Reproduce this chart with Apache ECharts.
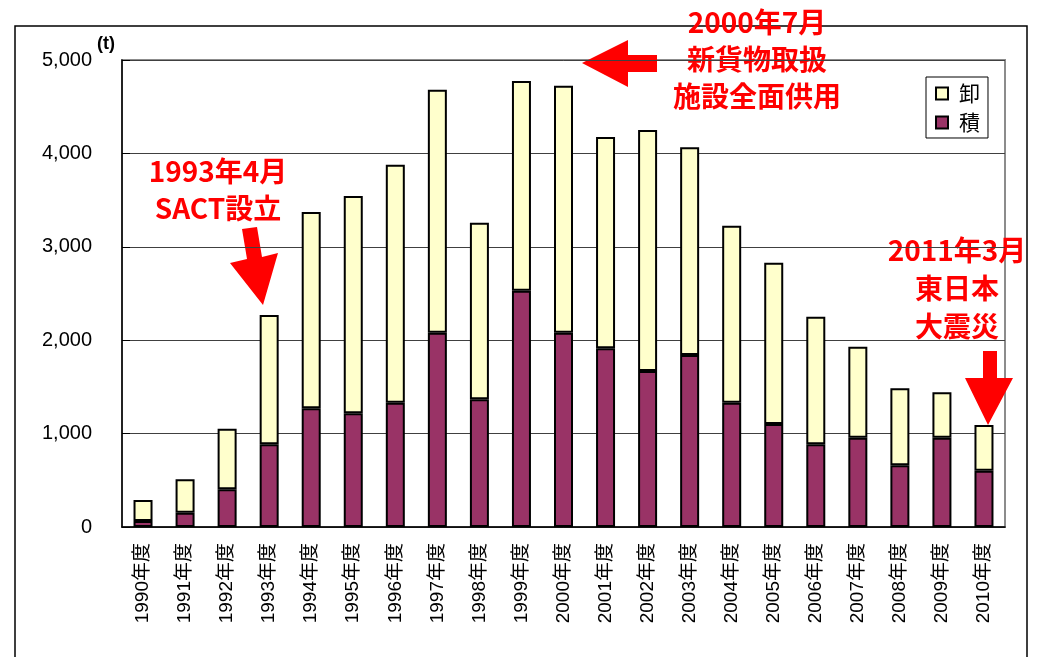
<!DOCTYPE html>
<html>
<head>
<meta charset="utf-8">
<script src="https://cdn.jsdelivr.net/npm/echarts@6/dist/echarts.min.js"></script>
<style>
  html, body { margin: 0; padding: 0; background: #fff; }
  #chart { width: 1039px; height: 657px; }
</style>
</head>
<body>
<div id="chart"></div>
<script>
// 年度
const years = ['1990年度','1991年度','1992年度','1993年度','1994年度','1995年度','1996年度',
  '1997年度','1998年度','1999年度','2000年度','2001年度','2002年度','2003年度','2004年度',
  '2005年度','2006年度','2007年度','2008年度','2009年度','2010年度'];
// 積 (t)
const tsumi = [64,153,404,885,1271,1217,1331,2080,1367,2530,2080,1913,1670,1842,1331,1103,885,956,660,956,603];
// 卸 (t)
const oroshi = [225,358,649,1385,2102,2327,2548,2602,1891,2245,2645,2263,2581,2223,1895,1727,1367,974,825,486,489];
const yTicks = [0, 1000, 2000, 3000, 4000, 5000];

const red = '#ff0000';
const noteFont = 'bold 28px "Noto Sans CJK JP", sans-serif';

const chart = echarts.init(document.getElementById('chart'));

chart.setOption({
  animation: false,
  backgroundColor: '#fff',
  grid: {
    left: 122, right: 34, top: 60, bottom: 130,
    show: true, borderColor: '#8c8c8c', borderWidth: 2
  },
  legend: {
    orient: 'vertical',
    left: 926, top: 77,
    data: ['卸', '積'],
    backgroundColor: '#fff',
    borderColor: '#000',
    borderWidth: 1,
    borderRadius: 0,
    padding: [6, 8, 5, 9],
    itemGap: 8,
    itemWidth: 12, itemHeight: 12,
    icon: 'rect',
    textStyle: { fontSize: 21, color: '#000', fontFamily: '"Noto Sans CJK JP"', padding: [0, 0, 0, 6] }
  },
  xAxis: {
    type: 'category',
    data: years,
    axisLine: { lineStyle: { color: '#000', width: 1.5 } },
    axisTick: { inside: true, length: 5, lineStyle: { color: '#000' } },
    axisLabel: {
      rotate: 90, margin: 16, color: '#000', fontSize: 19,
      fontFamily: '"Liberation Sans", "Noto Sans CJK JP", sans-serif'
    }
  },
  yAxis: {
    type: 'value',
    min: yTicks[0], max: yTicks[yTicks.length - 1], interval: 1000,
    axisLine: { show: true, lineStyle: { color: '#000', width: 1.5 } },
    axisTick: { show: true, inside: true, length: 8, lineStyle: { color: '#000' } },
    splitLine: { lineStyle: { color: '#404040', width: 1 } },
    axisLabel: {
      margin: 30, color: '#000', fontSize: 20,
      fontFamily: '"Liberation Sans", sans-serif',
      formatter: v => v.toLocaleString('en-US')
    }
  },
  series: [
    {
      name: '積', type: 'bar', stack: 'all', data: tsumi, barWidth: 19,
      itemStyle: { color: '#993366', borderColor: '#000', borderWidth: 2 }
    },
    {
      name: '卸', type: 'bar', stack: 'all', data: oroshi, barWidth: 19,
      itemStyle: { color: '#ffffcc', borderColor: '#000', borderWidth: 2 }
    }
  ],
  graphic: [
    // outer frame
    { type: 'rect', shape: { x: 15, y: 26, width: 1012, height: 700 },
      style: { fill: 'none', stroke: '#000', lineWidth: 1.5 }, silent: true },
    // unit
    { type: 'text', x: 97, y: 35,
      style: { text: '(t)', font: 'bold 18px "Liberation Sans"', fill: '#000' } },
    // 1993 note
    { type: 'text', x: 218, y: 153,
      style: { text: '1993年4月\nSACT設立', font: noteFont, fill: red,
        textAlign: 'center', textVerticalAlign: 'top', lineHeight: 37 } },
    { type: 'polygon', shape: { points: [[242,229],[257,227],[262,257],[278,253],[263,305],[230,263],[247,259]] },
      style: { fill: red } },
    // 2000 note
    { type: 'text', x: 757, y: 4,
      style: { text: '2000年7月\n新貨物取扱\n施設全面供用', font: noteFont, fill: red,
        textAlign: 'center', textVerticalAlign: 'top', lineHeight: 37 } },
    { type: 'polygon', shape: { points: [[582,63],[628,40],[628,55],[657,55],[657,72],[628,72],[628,87]] },
      style: { fill: red } },
    // 2011 note
    { type: 'text', x: 957, y: 231,
      style: { text: '2011年3月\n東日本\n大震災', font: noteFont, fill: red,
        textAlign: 'center', textVerticalAlign: 'top', lineHeight: 38 } },
    { type: 'polygon', shape: { points: [[983,351],[997,351],[997,378],[1013,378],[988,425],[965,378],[983,378]] },
      style: { fill: red } }
  ]
});
</script>
</body>
</html>
